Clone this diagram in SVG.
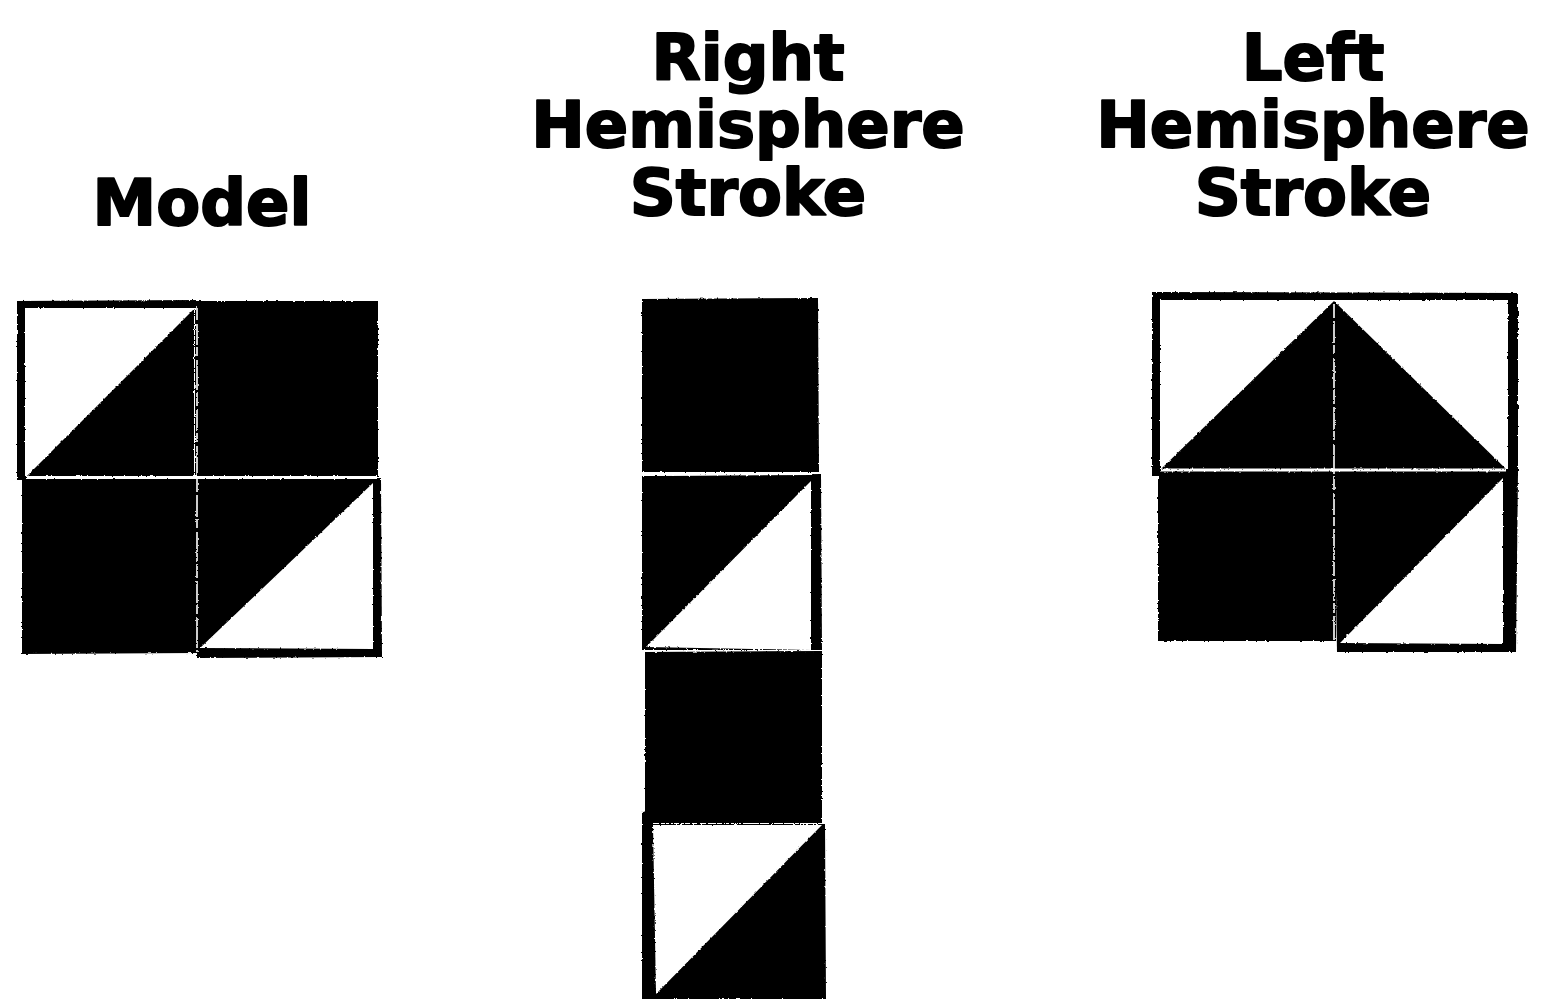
<svg xmlns="http://www.w3.org/2000/svg" width="1543" height="999" viewBox="0 0 1543 999">
  <style>
    .title { font-family: "DejaVu Sans", "Liberation Sans", sans-serif; font-weight: bold; font-size: 64px; text-anchor: middle; fill: #000; stroke: #000; stroke-width: 2px; stroke-linejoin: round; }
    .ink { fill: #000; }
    .paper { fill: #fff; }
    .gap { stroke: #fff; stroke-width: 3; fill: none; }
    .vgap { stroke: #fff; stroke-width: 1.6; fill: none; stroke-dasharray: 14 3 22 2 9 4 30 2; }
  </style>
  <defs>
    <filter id="rough" x="-5%" y="-5%" width="110%" height="110%">
      <feTurbulence type="fractalNoise" baseFrequency="0.35" numOctaves="2" seed="3" result="n"/>
      <feDisplacementMap in="SourceGraphic" in2="n" scale="2.5" xChannelSelector="R" yChannelSelector="G"/>
    </filter>
  </defs>
  <rect width="1543" height="999" fill="#fff"/>

  <g id="model">
    <text class="title" x="202" y="225">Model</text>
    <g filter="url(#rough)">
      <!-- top-left cell: bordered, white with black lower-right triangle -->
      <polygon class="ink" points="17,301 197,300 197,480 17,480"/>
      <rect class="paper" x="25" y="308" width="170" height="168"/>
      <polygon class="ink" points="27,476 194,309 194,476"/>
      <!-- top-right cell: solid black -->
      <polygon class="ink" points="196,301 378,301 378,477 196,477"/>
      <!-- bottom-left cell: solid black -->
      <polygon class="ink" points="22,479 198,479 198,653 22,654"/>
      <!-- bottom-right cell: bordered, black upper-left, white lower-right -->
      <polygon class="ink" points="196,478 381,478 382,657 197,658"/>
      <polygon class="paper" points="200,648 373,483 373,649"/>
      <line class="gap" x1="26" y1="477.5" x2="377" y2="477.5"/>
      <line class="vgap" x1="197" y1="306" x2="197" y2="652"/>
    </g>
  </g>

  <g id="right-hemisphere">
    <text class="title" x="748" y="80">Right</text>
    <text class="title" x="748" y="147">Hemisphere</text>
    <text class="title" x="748" y="215">Stroke</text>
    <g filter="url(#rough)">
      <!-- block 1: solid black -->
      <polygon class="ink" points="642,299 818,298 819,472 642,472"/>
      <!-- block 2: black upper-left, white lower-right, with right border -->
      <polygon class="ink" points="642,476 821,474 822,650 642,650"/>
      <polygon class="paper" points="646,647 811,481 811,650"/>
      <line class="gap" x1="643" y1="474.5" x2="812" y2="473.5"/>
      <!-- block 3: solid black -->
      <polygon class="ink" points="645,652 822,651 822,823 645,823"/>
      <!-- block 4: white upper-left, black lower-right, with left border -->
      <polygon class="ink" points="642,812 653,810 653,824 825,824 826,999 642,999"/>
      <polygon class="paper" points="653,825 822,825 656,994"/>
    </g>
  </g>

  <g id="left-hemisphere">
    <text class="title" x="1313" y="80">Left</text>
    <text class="title" x="1313" y="147">Hemisphere</text>
    <text class="title" x="1313" y="215">Stroke</text>
    <g filter="url(#rough)">
      <!-- top row: bordered, white with black gable -->
      <polygon class="ink" points="1152,292 1518,293 1518,476 1152,476"/>
      <rect class="paper" x="1160" y="300" width="348" height="169"/>
      <polygon class="ink" points="1161,469 1334,301 1506,469"/>
      <!-- bottom-left cell: solid black -->
      <polygon class="ink" points="1158,471 1336,471 1336,641 1158,641"/>
      <!-- bottom-right cell: bordered, black upper-left, white lower-right -->
      <polygon class="ink" points="1334,471 1518,471 1516,652 1337,652"/>
      <polygon class="paper" points="1340,643 1503,478 1503,644"/>
      <line class="gap" x1="1161" y1="470" x2="1506" y2="470"/>
      <line class="vgap" x1="1334" y1="304" x2="1334" y2="640"/>
    </g>
  </g>
</svg>
